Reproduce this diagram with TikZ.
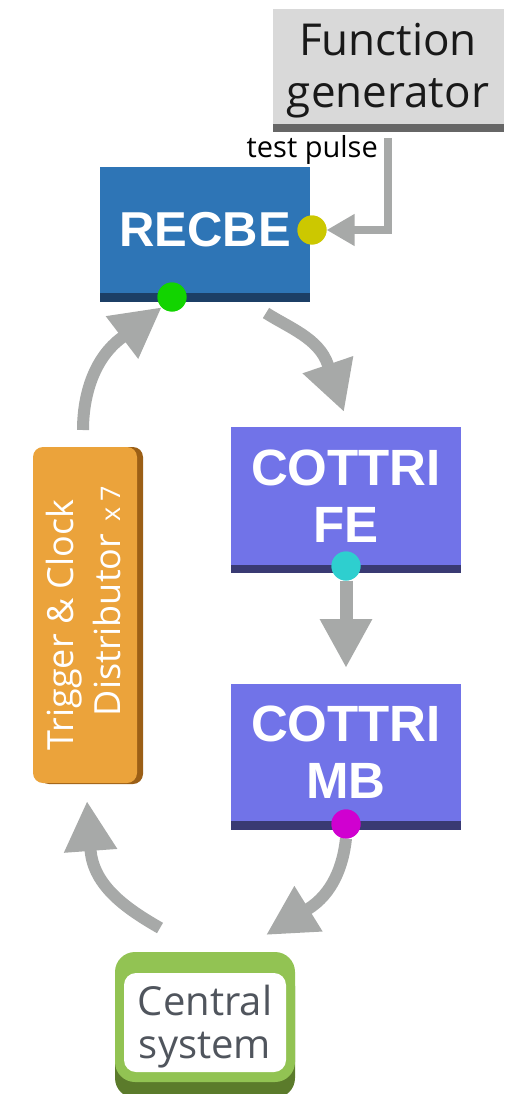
\documentclass[tikz,border=0pt]{standalone}
\usepackage{fontspec}
\setmainfont{Open Sans}
\newfontfamily\labelfont{Liberation Sans}
\usetikzlibrary{arrows.meta}

\definecolor{arrowgray}{HTML}{A7A9A8}
\definecolor{fggray}{HTML}{D9D9D9}
\definecolor{fgbar}{HTML}{666666}
\definecolor{recbeblue}{HTML}{2E75B6}
\definecolor{recbebar}{HTML}{1C3F66}
\definecolor{cottri}{HTML}{7173E8}
\definecolor{cottribar}{HTML}{393A73}
\definecolor{tcdorange}{HTML}{EBA33B}
\definecolor{tcdshadow}{HTML}{9B5F16}
\definecolor{censgreen}{HTML}{92C353}
\definecolor{censshadow}{HTML}{5B7B2B}
\definecolor{censtext}{HTML}{50555D}
\definecolor{portyellow}{HTML}{CCC800}
\definecolor{portgreen}{HTML}{12D400}
\definecolor{portcyan}{HTML}{2ECFCF}
\definecolor{portmagenta}{HTML}{D000D0}

\begin{document}
\begin{tikzpicture}[x=1pt, y=-1pt,
  bigarrow/.style={draw=arrowgray, line width=12pt, -{Triangle[length=50pt,width=50pt]}},
  pulsearrow/.style={draw=arrowgray, line width=8pt, -{Triangle[length=28pt,width=30pt]}},
  port/.style={circle, fill=#1, minimum size=29pt, inner sep=0pt, outer sep=0pt},
  block/.style={fill=#1, inner sep=0pt, outer sep=0pt, text=white, align=center,
    font=\labelfont\bfseries\fontsize{51}{57}\selectfont},
]
\useasboundingbox (0,0) rectangle (504,1094);

% function generator
\node[fill=fggray, minimum width=231pt, minimum height=115pt, inner sep=0pt, outer sep=0pt] (fg) at (388.5,66.5) {};
\fill[fgbar] (fg.south west) rectangle ([yshift=-8pt]fg.south east);
\node[font=\fontsize{44}{52}\selectfont, align=center, inner sep=0pt, text=black!90] (fglabel) at (388,71) {Function\\generator};

% RECBE board
\node[block=recbeblue, minimum width=210pt, minimum height=126pt,
  font=\labelfont\bfseries\fontsize{49}{56}\selectfont] (recbe) at (205,230) {RECBE};
\fill[recbebar] (recbe.south west) rectangle ([yshift=-9pt]recbe.south east);

% COTTRI front end
\node[block=cottri, minimum width=230pt, minimum height=138pt] (fe) at (346,496) {COTTRI\\FE};
\fill[cottribar] (fe.south west) rectangle ([yshift=-8pt]fe.south east);

% COTTRI merger board
\node[block=cottri, minimum width=230pt, minimum height=137pt] (mb) at (346,752.5) {COTTRI\\MB};
\fill[cottribar] (mb.south west) rectangle ([yshift=-9pt]mb.south east);

% trigger and clock distributor
\fill[tcdshadow, rounded corners=10pt] (39,447) rectangle (143,784);
\node[fill=tcdorange, rounded corners=10pt, minimum width=104pt, minimum height=336pt, inner sep=0pt] (tcd) at (85,615) {};
\node[rotate=90, text=white, font=\fontsize{36}{47}\selectfont, align=center, inner sep=0pt] (tcdlabel) at (83,625)
  {Trigger \& Clock\\Distributor\rlap{\hspace{12pt}\fontsize{27}{30}\selectfont x\hspace{6pt}7}};

% central system
\fill[censshadow, rounded corners=20pt] (115,966) rectangle (295,1098);
\node[fill=censgreen, rounded corners=20pt, minimum width=180pt, minimum height=130pt, inner sep=0pt] (central) at (205,1017) {};
\node[fill=white, rounded corners=12pt, minimum width=162pt, minimum height=99pt, inner sep=0pt] (centralin) at (205,1022.5) {};
\node[text=censtext, font=\fontsize{40}{43}\selectfont, align=center, inner sep=0pt] (centrallabel) at (205,1026.5) {Central\\system};

% ports
\node[port=portyellow] (pyel) at (312,230) {};
\node[port=portgreen] (pgrn) at (172,297) {};
\node[port=portcyan] (pcyn) at (346,566) {};
\node[port=portmagenta] (pmag) at (346,824) {};

% test pulse line
\coordinate (pulsetop) at (388,138);
\draw[pulsearrow] (pulsetop) |- (pyel.east);
\node[anchor=base east, font=\fontsize{29}{34}\selectfont, inner sep=0pt] (tplabel) at (378,158) {test pulse};

% data flow arrows
\coordinate (a1s) at (83,430);
\coordinate (a1b) at (122,337.5);
\draw[bigarrow] (a1s) .. controls (83,395) and (94,358) .. (a1b) -- (pgrn.south west);

\coordinate (a2s) at (266,313);
\coordinate (a2b) at (328,365);
\coordinate (a2t) at (344,412);
\draw[bigarrow] (a2s) .. controls (289.5,328) and (319,338.4) .. (a2b) -- (a2t);

\draw[bigarrow, line width=13pt, -{Triangle[length=49pt,width=49pt]}] (pcyn.south) -- ([yshift=16pt]mb.north);

\coordinate (a3b) at (308,909);
\coordinate (a3t) at (266,935);
\draw[bigarrow] (pmag.south) .. controls (343,866.5) and (332.3,893.8) .. (a3b) -- (a3t);

\coordinate (a4s) at (160,928);
\coordinate (a4b) at (90.5,849.5);
\coordinate (a4t) at (87,801);
\draw[bigarrow] (a4s) .. controls (127.8,909.5) and (93.2,886.4) .. (a4b) -- (a4t);

% ports drawn over the arrow ends
\node[port=portyellow] at (pyel) {};
\node[port=portgreen] at (pgrn) {};
\node[port=portcyan] at (pcyn) {};
\node[port=portmagenta] at (pmag) {};
\end{tikzpicture}
\end{document}
